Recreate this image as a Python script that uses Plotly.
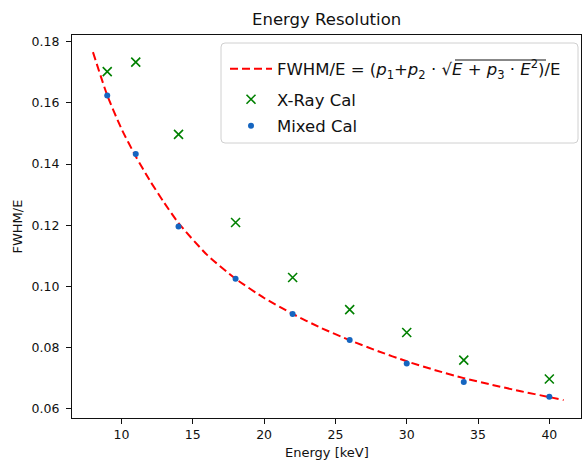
import plotly.graph_objects as go

# ---- data ----
energy = [9, 11, 14, 18, 22, 26, 30, 34, 40]
xray_cal = [0.1702, 0.1733, 0.1497, 0.1209, 0.1029, 0.0924, 0.0849, 0.0759, 0.0697]
mixed_cal = [0.1624, 0.1433, 0.1196, 0.1025, 0.0910, 0.0825, 0.0748, 0.0687, 0.0639]
fit_energy = [8, 9, 10, 11, 12, 13, 14, 16, 18, 20, 22, 24, 26, 28, 30, 32, 34, 36, 38, 40, 41]
fit_values = [0.1766, 0.1625, 0.1515, 0.1425, 0.1345, 0.1273, 0.1207, 0.1103, 0.1025, 0.0962,
              0.0910, 0.0864, 0.0824, 0.0788, 0.0755, 0.0726, 0.0700, 0.0678, 0.0657, 0.0638, 0.0628]
x_ticks = [10, 15, 20, 25, 30, 35, 40]
y_ticks = [0.06, 0.08, 0.10, 0.12, 0.14, 0.16, 0.18]

W, H = 582, 464
L, R, T, B = 72, 581, 35, 418
pw, ph = R - L, B - T

def px(xp):
    return (xp - L) / pw

def py(yp):
    return (B - yp) / ph

FONT = "DejaVu Sans"
fit_label = ("FWHM/E = (<i>p</i><sub>1</sub>+<i>p</i><sub>2</sub> · √"
             "<i>E</i> + <i>p</i><sub>3</sub> · <i>E</i><sup>2</sup>)/E")

fig = go.Figure()
fig.add_trace(go.Scatter(
    x=fit_energy, y=fit_values, mode="lines", name=fit_label,
    line=dict(color="#ff0000", width=2, dash="8px,4px", shape="spline", smoothing=0.6),
    legend="legend"))
fig.add_trace(go.Scatter(
    x=energy, y=xray_cal, mode="markers", name="X-Ray Cal",
    marker=dict(symbol="x-thin", size=9, color="#008000",
                line=dict(color="#008000", width=1.6)),
    legend="legend2"))
fig.add_trace(go.Scatter(
    x=energy, y=mixed_cal, mode="markers", name="Mixed Cal",
    marker=dict(symbol="circle", size=6, color="#1565c0"),
    legend="legend3"))

leg_common = dict(xanchor="left", yanchor="middle", bgcolor="rgba(0,0,0,0)",
                  borderwidth=0, itemwidth=42,
                  font=dict(family=FONT, size=16.5, color="#111"))
leg_x = px(225)

# legend frame with rounded corners
x0, x1, y0, y1 = 221, 578, 43, 143
r = 4
rx, ry = r / pw, r / ph
X0, X1, Y0, Y1 = px(x0), px(x1), py(y1), py(y0)
path = (f"M{X0+rx},{Y1} L{X1-rx},{Y1} Q{X1},{Y1} {X1},{Y1-ry} "
        f"L{X1},{Y0+ry} Q{X1},{Y0} {X1-rx},{Y0} L{X0+rx},{Y0} Q{X0},{Y0} {X0},{Y0+ry} "
        f"L{X0},{Y1-ry} Q{X0},{Y1} {X0+rx},{Y1} Z")

fig.update_layout(
    width=W, height=H,
    margin=dict(l=L, r=W - R, t=T, b=H - B),
    paper_bgcolor="white", plot_bgcolor="white",
    font=dict(family=FONT, size=12, color="#111"),
    showlegend=True,
    legend=dict(x=leg_x, y=py(69), **leg_common),
    legend2=dict(x=leg_x, y=py(99.5), **leg_common),
    legend3=dict(x=leg_x, y=py(126), **leg_common),
    shapes=[
        dict(type="path", path=path, xref="paper", yref="paper",
             line=dict(color="#d0d0d0", width=1), fillcolor="rgba(255,255,255,0.8)",
             layer="above"),
        # overline of the square root in the legend label
        dict(type="line", xref="paper", yref="paper", x0=px(455), x1=px(546),
             y0=py(60), y1=py(60), line=dict(color="#111", width=1), layer="above"),
    ],
    annotations=[
        dict(text="Energy Resolution", xref="paper", yref="paper", x=0.5, y=py(20),
             xanchor="center", yanchor="middle", showarrow=False,
             font=dict(family=FONT, size=16.5, color="#111")),
        dict(text="Energy [keV]", xref="paper", yref="paper", x=0.5, y=py(452),
             xanchor="center", yanchor="middle", showarrow=False,
             font=dict(family=FONT, size=13, color="#111")),
        dict(text="FWHM/E", xref="paper", yref="paper", x=px(17), y=0.5, textangle=-90,
             xanchor="center", yanchor="middle", showarrow=False,
             font=dict(family=FONT, size=13, color="#111")),
    ],
)
fig.update_xaxes(range=[6.53, 42.22], tickvals=x_ticks, ticktext=[str(v) for v in x_ticks],
                 showline=True, linecolor="#111", linewidth=1.2, mirror=True,
                 ticks="outside", ticklen=5, tickwidth=1.1, tickcolor="#111",
                 showgrid=False, zeroline=False, tickfont=dict(size=12.5))
fig.update_yaxes(range=[0.05696, 0.18219], tickvals=y_ticks, ticktext=[f"{v:.2f}" for v in y_ticks],
                 showline=True, linecolor="#111", linewidth=1.2, mirror=True,
                 ticks="outside", ticklen=5, tickwidth=1.1, tickcolor="#111",
                 showgrid=False, zeroline=False, tickfont=dict(size=12.5),
                 ticklabelstandoff=4)

fig.write_html("out.html", config={"displayModeBar": False},
               post_script="document.body.style.margin='0';document.body.style.overflow='hidden';")
